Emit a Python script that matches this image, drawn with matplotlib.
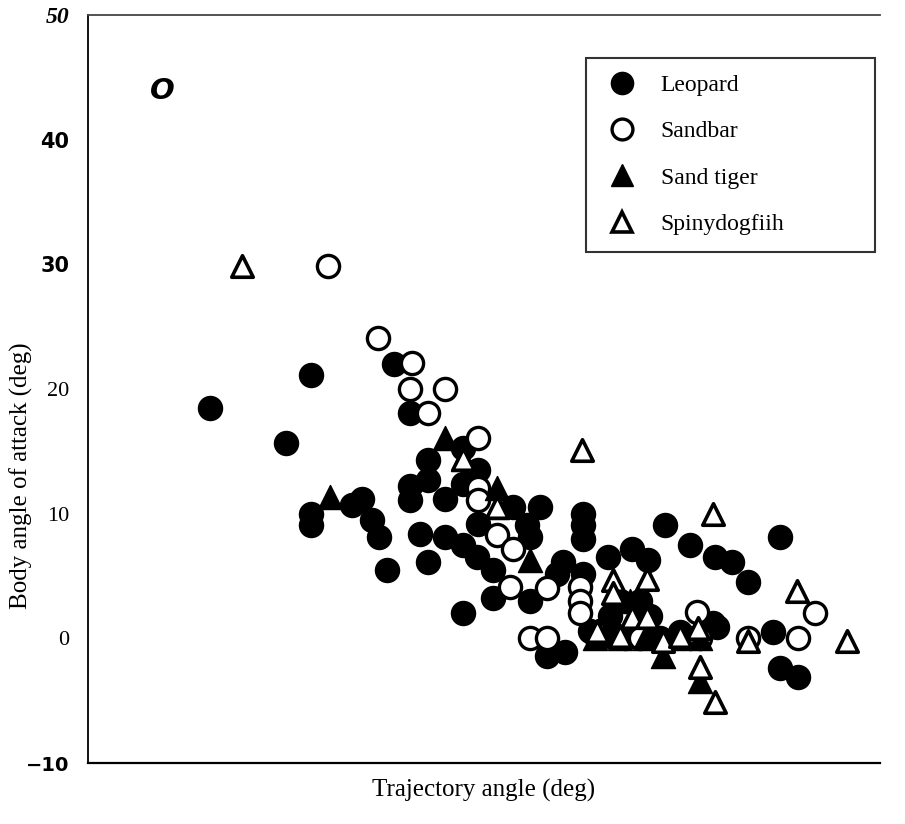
import numpy as np
import matplotlib
matplotlib.use("Agg")
import matplotlib.pyplot as plt
from matplotlib.lines import Line2D

# --- data (deg) ---
leopard_x = [12.2, 19.8, 22.3, 22.3, 22.3, 26.4, 27.4, 28.4, 29.1, 29.9, 30.6, 32.2,
             34.0, 34.0, 32.2, 32.2, 35.7, 33.2, 35.7, 37.5, 39.0, 37.5, 39.0, 42.5,
             45.2, 37.5, 38.9, 40.5, 34.0, 37.5, 43.9, 44.2, 40.5, 44.2, 47.5, 46.9,
             49.5, 49.5, 49.5, 49.5, 52.0, 45.9, 47.7, 54.4, 56.0, 57.7, 60.2, 62.7,
             64.4, 66.0, 69.2, 62.5, 68.5, 69.2, 71.0, 62.9, 50.2, 52.2, 53.7, 55.7,
             57.2, 59.2, 60.2, 53.2, 55.2, 52.2, 56.2]
leopard_y = [18.5, 15.7, 21.1, 10.0, 9.1, 10.7, 11.2, 9.5, 8.1, 5.5, 22.0, 18.1,
             14.3, 12.7, 12.2, 11.1, 11.2, 8.4, 8.1, 15.3, 13.5, 12.4, 9.2, 10.5,
             10.5, 7.5, 6.5, 5.5, 6.1, 2.0, 9.1, 8.1, 3.2, 3.0, 6.1, 5.2,
             10.0, 9.1, 8.0, 5.2, 6.5, -1.4, -1.1, 7.2, 6.3, 9.1, 7.5, 6.5,
             6.1, 4.5, 8.1, 1.2, 0.5, -2.4, -3.1, 0.9, 0.6, 0.2, 0.0, 0.5,
             0.0, 0.5, 0.0, 3.0, 3.0, 1.8, 1.8]

sandbar_x = [24.0, 29.0, 32.4, 32.2, 35.7, 34.0, 39.0, 39.0, 39.0, 40.9, 42.5, 42.2,
             45.9, 44.2, 45.9, 49.2, 49.2, 49.2, 60.9, 66.0, 71.0, 72.7, 55.2, 61.2]
sandbar_y = [29.9, 24.1, 22.1, 20.0, 20.0, 18.1, 16.1, 12.1, 11.1, 8.3, 7.2, 4.1,
             4.0, 0.0, 0.0, 4.1, 3.0, 2.0, 2.1, 0.0, 0.0, 2.0, 0.0, 0.0]

tiger_x = [24.2, 35.7, 37.5, 40.9, 40.9, 44.2, 57.5, 61.2, 50.7, 53.2, 55.7, 58.7, 61.2, 54.2]
tiger_y = [11.3, 16.1, 14.4, 12.1, 10.5, 6.3, -1.4, -3.4, 0.0, 0.0, 0.0, 0.0, 0.0, 3.0]

spiny_x = [15.4, 37.5, 40.9, 49.4, 52.5, 52.5, 55.9, 54.4, 55.9, 50.9, 57.5, 61.0,
           61.2, 62.7, 62.5, 70.9, 66.0, 75.9, 53.2, 59.2]
spiny_y = [29.9, 14.4, 10.5, 15.1, 4.7, 3.6, 4.8, 1.7, 1.7, 0.6, -0.2, 0.8,
           -2.3, -5.1, 10.0, 3.8, -0.2, -0.2, 0.2, 0.2]

species = ["Leopard", "Sandbar", "Sand tiger", "Spinydogfiih"]
yticks = [-10, 0, 10, 20, 30, 40, 50]

fig = plt.figure(figsize=(9.05, 8.24), dpi=100)
ax = fig.add_axes([0.0972, 0.074, 0.8752, 0.9078])

ms = 300
ax.scatter(leopard_x, leopard_y, s=ms, marker="o", facecolor="black", edgecolor="black", linewidth=1)
ax.scatter(sandbar_x, sandbar_y, s=ms * 0.85, marker="o", facecolor="white", edgecolor="black", linewidth=2.4)
ax.scatter(tiger_x, tiger_y, s=ms, marker="^", facecolor="black", edgecolor="black", linewidth=1)
ax.scatter(spiny_x, spiny_y, s=ms * 0.8, marker="^", facecolor="white", edgecolor="black", linewidth=2.6)

ax.set_xlim(0, 79.2)
ax.set_ylim(-10, 50)
ax.set_xticks([])
ax.set_yticks(yticks)
ax.set_yticklabels(["\u221210", "0", "10", "20", "30", "40", "50"])
ax.tick_params(axis="y", length=0, pad=13.5)

# the scan mixes fonts on the tick labels
label_fonts = [
    dict(family="DejaVu Sans", weight="bold", style="normal", size=14),
    dict(family="Liberation Serif", weight="normal", style="normal", size=16),
    dict(family="Liberation Serif", weight="normal", style="normal", size=16),
    dict(family="Liberation Serif", weight="normal", style="normal", size=16),
    dict(family="DejaVu Sans", weight="semibold", style="normal", size=15),
    dict(family="DejaVu Sans", weight="bold", style="normal", size=15),
    dict(family="Liberation Serif", weight="bold", style="italic", size=17),
]
for lab, f in zip(ax.get_yticklabels(), label_fonts):
    lab.set_family(f["family"])
    lab.set_weight(f["weight"])
    lab.set_style(f["style"])
    lab.set_fontsize(f["size"])

ax.spines["right"].set_visible(False)
ax.spines["left"].set_linewidth(1.3)
ax.spines["bottom"].set_linewidth(1.6)
ax.spines["top"].set_linewidth(1.3)
ax.spines["top"].set_color("#444444")

ax.set_ylabel("Body angle of attack (deg)", family="Liberation Serif", fontsize=18)
ax.yaxis.set_label_coords(-0.07, 0.384)
ax.set_xlabel("Trajectory angle (deg)", family="Liberation Serif", fontsize=18)
ax.xaxis.set_label_coords(0.5, -0.021)

ax.text(7.4, 43.9, "O", fontsize=21, fontweight="bold", fontstyle="italic",
        family="DejaVu Sans", ha="center", va="center")

handles = [
    Line2D([], [], ls="none", marker="o", ms=16, mfc="black", mec="black"),
    Line2D([], [], ls="none", marker="o", ms=15, mfc="white", mec="black", mew=2.4),
    Line2D([], [], ls="none", marker="^", ms=16, mfc="black", mec="black"),
    Line2D([], [], ls="none", marker="^", ms=15, mfc="white", mec="black", mew=2.6),
]
leg = ax.legend(handles, species, loc="upper left", bbox_to_anchor=(0.629, 0.679, 0.365, 0.2635),
                mode="expand", frameon=True, fancybox=False, edgecolor="black",
                prop=dict(family="Liberation Serif", size=17), labelspacing=1.05,
                borderpad=0.7, handletextpad=0.85, handlelength=1.6, borderaxespad=0)
leg.get_frame().set_linewidth(1.5)

fig.savefig("out.png", dpi=100)
